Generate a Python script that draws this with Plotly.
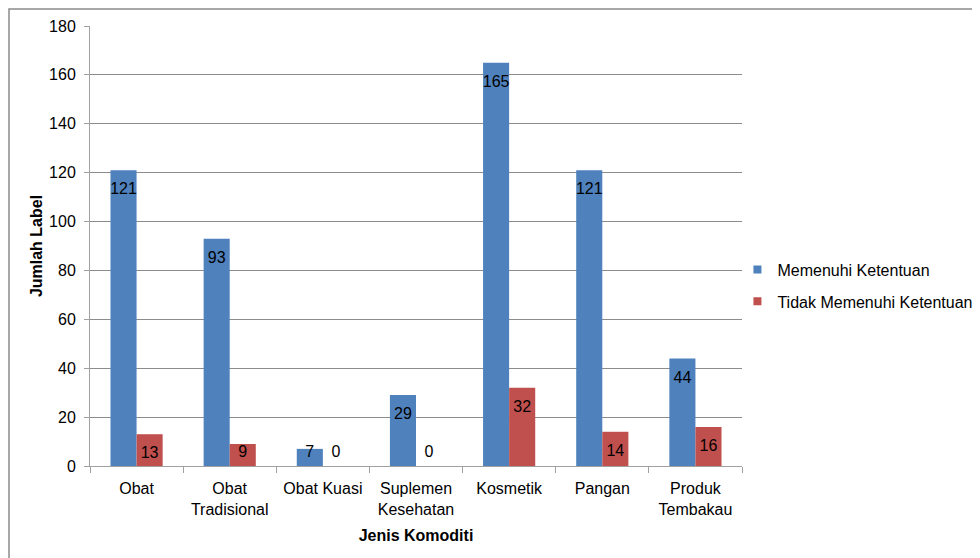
import plotly.graph_objects as go

categories = ["Obat", "Obat<br>Tradisional", "Obat Kuasi", "Suplemen<br>Kesehatan",
              "Kosmetik", "Pangan", "Produk<br>Tembakau"]
memenuhi = [121, 93, 7, 29, 165, 121, 44]
tidak_memenuhi = [13, 9, 0, 0, 32, 14, 16]
y_ticks = [0, 20, 40, 60, 80, 100, 120, 140, 160, 180]

FONT = "Liberation Sans, Arial, sans-serif"
BLUE = "#4F81BD"
RED = "#C0504D"
GAP = 0.44
SMALL = 12  # bars shorter than this get their label sitting on the baseline

def label_anchor(vals):
    return [v if v >= SMALL else 0 for v in vals]

def label_pos(vals):
    return ["bottom center" if v >= SMALL else "top center" for v in vals]

def label_pad(vals):
    return [18 if v >= SMALL else 6 for v in vals]

fig = go.Figure()
for name, vals, color in [("Memenuhi Ketentuan", memenuhi, BLUE),
                          ("Tidak Memenuhi Ketentuan", tidak_memenuhi, RED)]:
    fig.add_trace(go.Bar(
        x=categories, y=vals, name=name, showlegend=False,
        marker=dict(color=color, line=dict(width=0)), hoverinfo="x+y",
    ))
for name, vals in [("Memenuhi Ketentuan", memenuhi),
                   ("Tidak Memenuhi Ketentuan", tidak_memenuhi)]:
    fig.add_trace(go.Scatter(
        x=categories, y=label_anchor(vals), mode="markers+text", showlegend=False,
        text=[str(v) for v in vals], textposition=label_pos(vals),
        marker=dict(size=label_pad(vals), opacity=0), cliponaxis=False, hoverinfo="skip",
        textfont=dict(family=FONT, size=16, color="black"),
    ))
for name, color in [("Memenuhi Ketentuan", BLUE), ("Tidak Memenuhi Ketentuan", RED)]:
    fig.add_trace(go.Scatter(
        x=[None], y=[None], mode="markers", name=name, legendgroup=name,
        xaxis="x2", marker=dict(symbol="square", size=8, color=color),
    ))

fig.update_layout(
    width=972, height=550,
    margin=dict(l=82, r=238, t=18, b=92, autoexpand=False),
    paper_bgcolor="white", plot_bgcolor="white",
    barmode="group", bargap=GAP, bargroupgap=0,
    scattermode="group", scattergap=GAP,
    font=dict(family=FONT, size=16, color="black"),
    legend=dict(x=0.993, y=0.41, xanchor="left", yanchor="middle",
                font=dict(family=FONT, size=16, color="black"),
                itemwidth=30, tracegroupgap=8, bgcolor="rgba(0,0,0,0)"),
    xaxis=dict(
        type="category", tickson="boundaries", ticks="outside", ticklen=6,
        tickcolor="#a0a0a0", showline=True, linecolor="#a0a0a0", linewidth=1,
        showgrid=False, automargin=False, ticklabelstandoff=8,
        tickfont=dict(family=FONT, size=16, color="black"),
        title=dict(text="<b>Jenis Komoditi</b>", font=dict(family=FONT, size=16, color="black"),
                   standoff=12),
    ),
    xaxis2=dict(overlaying="x", visible=False, range=[0, 1]),
    yaxis=dict(
        range=[0, 180], tickvals=y_ticks, ticks="outside", ticklen=5,
        tickcolor="#a0a0a0", showline=True, linecolor="#a0a0a0", linewidth=1,
        showgrid=True, gridcolor="#8c8c8c", gridwidth=1, zeroline=False,
        automargin=False, ticklabelstandoff=5,
        tickfont=dict(family=FONT, size=16, color="black"),
        title=dict(text="<b>Jumlah Label</b>", font=dict(family=FONT, size=16, color="black"),
                   standoff=2),
    ),
    shapes=[dict(type="rect", xref="paper", yref="paper",
                 x0=-81/652, x1=1.5, y0=-0.5, y1=(466 - 9) / 440,
                 line=dict(color="#8c8c8c", width=1.5), layer="below")],
)

fig.write_html("out.html")
